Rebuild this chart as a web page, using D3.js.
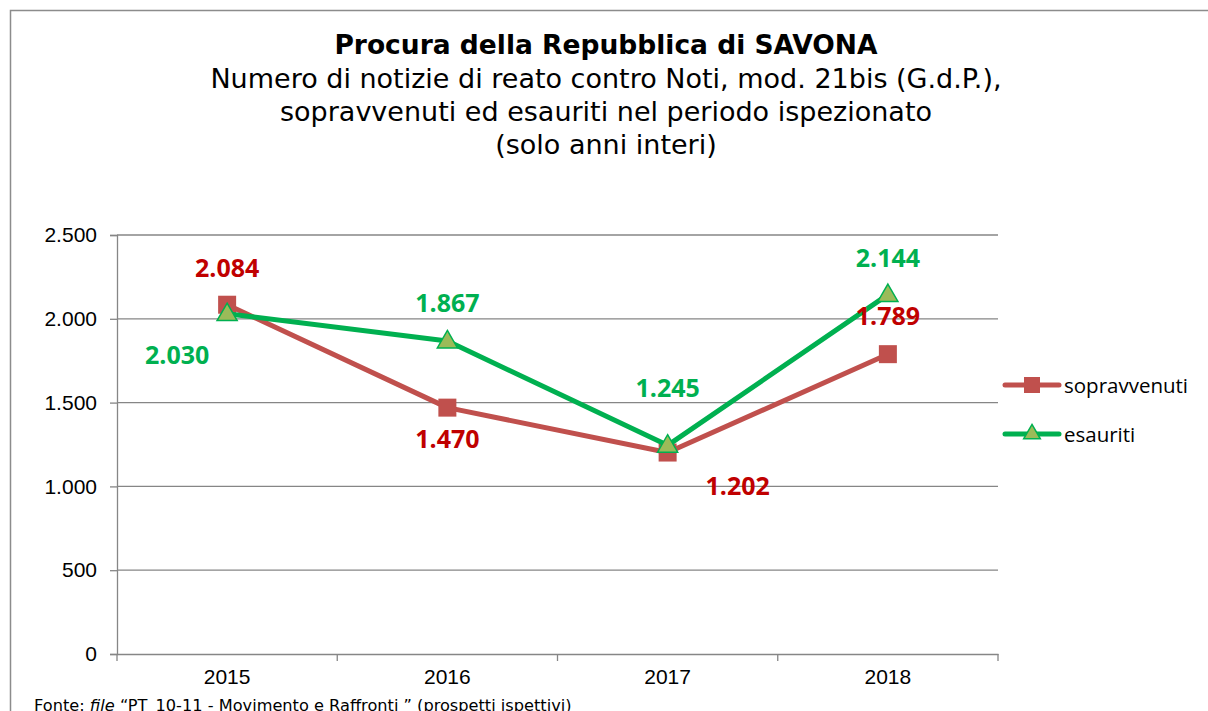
<!DOCTYPE html>
<html><head><meta charset="utf-8">
<script src="https://cdn.jsdelivr.net/npm/d3@7"></script>
<style>body{margin:0;background:#fff;}svg{display:block;}</style>
</head><body>
<script>
const categories = ["2015","2016","2017","2018"];
const sopravvenuti = [2084, 1470, 1202, 1789];
const esauriti = [2030, 1867, 1245, 2144];
const yTicks = [0, 500, 1000, 1500, 2000, 2500];
const seriesNames = ["sopravvenuti","esauriti"];

const W = 1208, H = 711;
const svg = d3.select("body").append("svg").attr("width", W).attr("height", H);
svg.append("rect").attr("x",10.5).attr("y",10.5).attr("width",W).attr("height",H)
  .attr("fill","#fff").attr("stroke","#8c8c8c").attr("stroke-width",1.5);

const fmt = v => d3.format(",")(v).replace(/,/g,".");
const x = d3.scaleBand().domain(categories).range([117, 998]);
const y = d3.scaleLinear().domain([0, 2500]).range([654, 235]);
const axisFont = "'Liberation Sans', Arial, sans-serif";

// gridlines
svg.append("g").selectAll("line").data(yTicks.filter(t=>t>0)).join("line")
  .attr("x1",117).attr("x2",998).attr("y1",d=>y(d)).attr("y2",d=>y(d))
  .attr("stroke","#868686").attr("stroke-width",1.3);

// y axis
const ya = svg.append("g").attr("transform","translate(117,0)")
  .call(d3.axisLeft(y).tickValues(yTicks).tickFormat(fmt).tickSize(7).tickPadding(13));
ya.select(".domain").attr("stroke","#868686").attr("stroke-width",1.3);
ya.selectAll(".tick line").attr("stroke","#868686").attr("stroke-width",1.3);
ya.selectAll("text").attr("font-family",axisFont).attr("font-size",21).attr("fill","#000");

// x axis
const xa = svg.append("g").attr("transform","translate(0,654)")
  .call(d3.axisBottom(x).tickSize(0).tickPadding(15));
xa.select(".domain").attr("stroke","#868686").attr("stroke-width",1.3);
xa.selectAll("text").attr("font-family",axisFont).attr("font-size",21).attr("fill","#000");
const edges = categories.map(c=>x(c)).concat([x.range()[1]]);
xa.append("g").selectAll("line").data(edges).join("line")
  .attr("x1",d=>d).attr("x2",d=>d).attr("y1",0).attr("y2",7)
  .attr("stroke","#868686").attr("stroke-width",1.3);

const cx = c => x(c) + x.bandwidth()/2;
const line = d3.line().x((d,i)=>cx(categories[i])).y(d=>y(d));

svg.append("path").datum(sopravvenuti).attr("d",line).attr("fill","none")
  .attr("stroke","#C0504D").attr("stroke-width",5).attr("stroke-linejoin","round");
svg.append("g").selectAll("rect").data(sopravvenuti).join("rect")
  .attr("x",(d,i)=>cx(categories[i])-9).attr("y",d=>y(d)-9).attr("width",18).attr("height",18)
  .attr("fill","#C0504D");

svg.append("path").datum(esauriti).attr("d",line).attr("fill","none")
  .attr("stroke","#00B050").attr("stroke-width",5).attr("stroke-linejoin","round");
const tri = d3.symbol().type(d3.symbolTriangle).size(175);
svg.append("g").selectAll("path").data(esauriti).join("path")
  .attr("d",tri).attr("transform",(d,i)=>`translate(${cx(categories[i])},${y(d)+1})`)
  .attr("fill","#9BBB59").attr("stroke","#00B050").attr("stroke-width",1.5);

// data labels (offsets relative to point)
const sopOff = [[0,-38],[0,30],[70,32],[0,-39]];
const esaOff = [[-50,40],[0,-39],[0,-58],[0,-38]];
const lblFont = "'Open Sans', 'Liberation Sans', sans-serif";
svg.append("g").selectAll("text").data(sopravvenuti).join("text")
  .attr("x",(d,i)=>cx(categories[i])+sopOff[i][0]).attr("y",(d,i)=>y(d)+sopOff[i][1])
  .attr("text-anchor","middle").attr("dominant-baseline","central")
  .attr("font-family",lblFont).attr("font-weight","bold").attr("font-size",25).attr("fill","#C00000")
  .text(fmt);
svg.append("g").selectAll("text").data(esauriti).join("text")
  .attr("x",(d,i)=>cx(categories[i])+esaOff[i][0]).attr("y",(d,i)=>y(d)+esaOff[i][1])
  .attr("text-anchor","middle").attr("dominant-baseline","central")
  .attr("font-family",lblFont).attr("font-weight","bold").attr("font-size",25).attr("fill","#00B050")
  .text(fmt);

// titles
const tf = "'DejaVu Sans', Verdana, sans-serif";
svg.append("text").attr("x",606).attr("y",54).attr("text-anchor","middle")
  .attr("font-family",tf).attr("font-weight","bold").attr("font-size",26.5).text("Procura della Repubblica di SAVONA");
["Numero di notizie di reato contro Noti, mod. 21bis (G.d.P.),",
 "sopravvenuti ed esauriti nel periodo ispezionato",
 "(solo anni interi)"].forEach((t,i)=>{
  svg.append("text").attr("x",606).attr("y",88+i*33).attr("text-anchor","middle")
    .attr("font-family",tf).attr("font-size",27).text(t);
});

// legend
const legend = svg.append("g");
seriesNames.forEach((n,i)=>{
  const ly = 385 + i*49;
  const col = i===0 ? "#C0504D" : "#00B050";
  legend.append("line").attr("x1",1005).attr("x2",1059).attr("y1",ly).attr("y2",ly)
    .attr("stroke",col).attr("stroke-width",5).attr("stroke-linecap","round");
  if(i===0){
    legend.append("rect").attr("x",1032-8).attr("y",ly-8).attr("width",16).attr("height",16).attr("fill",col);
  } else {
    legend.append("path").attr("d",d3.symbol().type(d3.symbolTriangle).size(120))
      .attr("transform",`translate(1032,${ly})`).attr("fill","#9BBB59").attr("stroke","#00B050").attr("stroke-width",1.5);
  }
  legend.append("text").attr("x",1064).attr("y",ly).attr("dominant-baseline","central")
    .attr("font-family","'Open Sans', 'Liberation Sans', sans-serif").attr("font-size",20.5).text(n);
});

// footer
const ft = svg.append("text").attr("x",34).attr("y",711).attr("font-family",tf).attr("font-size",16.2).attr("fill","#000");
ft.append("tspan").text("Fonte: ");
ft.append("tspan").attr("font-style","italic").text("file");
ft.append("tspan").text(" \u201CPT_10-11 - Movimento e Raffronti \u201D (prospetti ispettivi)");
</script>
</body></html>
